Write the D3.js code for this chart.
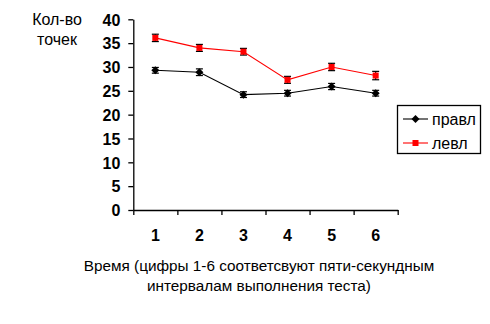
<!DOCTYPE html>
<html>
<head>
<meta charset="utf-8">
<script src="https://cdn.jsdelivr.net/npm/d3@7/dist/d3.min.js"></script>
<style>
  html, body { margin: 0; padding: 0; background: #fff; }
  svg { display: block; font-family: "Liberation Sans", Arial, sans-serif; }
</style>
</head>
<body>
<svg id="chart" width="490" height="324"></svg>
<script>
// Time intervals (five-second blocks) and mean points per interval
const categories = ["1", "2", "3", "4", "5", "6"];
const rightValues = [29.3, 28.9, 24.2, 24.5, 25.9, 24.5];   // правл
const rightErrors = [0.6, 0.7, 0.6, 0.6, 0.65, 0.6];
const leftValues  = [36.1, 34.0, 33.2, 27.3, 30.0, 28.2];   // левл
const leftErrors  = [0.77, 0.73, 0.7, 0.73, 0.77, 0.88];
const yTicks = [0, 5, 10, 15, 20, 25, 30, 35, 40];
const seriesNames = ["правл", "левл"];

const series = [
  { name: seriesNames[0], values: rightValues, errors: rightErrors, color: "#000000", marker: "diamond" },
  { name: seriesNames[1], values: leftValues,  errors: leftErrors,  color: "#ff0000", marker: "square" }
];

const svg = d3.select("#chart");
const plot = { left: 133.3, right: 397.7, top: 19.3, bottom: 210 };

const y = d3.scaleLinear().domain([0, 40]).range([plot.bottom, plot.top]);
const x = d3.scaleBand().domain(categories).range([plot.left, plot.right]).padding(0);
const xEdge = d3.scaleLinear().domain([0, categories.length]).range([plot.left, plot.right]);

// Y axis
const yAxis = svg.append("g")
  .attr("transform", `translate(${plot.left},0)`)
  .call(d3.axisLeft(y).tickValues(yTicks).tickSize(5).tickSizeOuter(0).tickPadding(8));
yAxis.select(".domain").attr("stroke", "#000").attr("stroke-width", 1.3);
yAxis.selectAll(".tick line").attr("stroke", "#000").attr("stroke-width", 1.3);
yAxis.selectAll(".tick text")
  .attr("font-family", "'Liberation Sans', Arial, sans-serif")
  .attr("font-size", 16).attr("font-weight", "bold").attr("fill", "#000")
  .attr("dy", "0.36em");

// X axis: boundary ticks between intervals
const xAxis = svg.append("g")
  .attr("transform", `translate(0,${plot.bottom})`)
  .call(d3.axisBottom(xEdge).tickValues(d3.range(0, categories.length + 1))
    .tickSize(5).tickSizeOuter(0).tickFormat(""));
xAxis.select(".domain").attr("stroke", "#000").attr("stroke-width", 1.3);
xAxis.selectAll(".tick line").attr("stroke", "#000").attr("stroke-width", 1.3);

// X category labels centred in each band
svg.append("g").selectAll("text")
  .data(categories)
  .join("text")
  .attr("x", d => x(d) + x.bandwidth() / 2)
  .attr("y", 240.5)
  .attr("text-anchor", "middle")
  .attr("font-size", 16).attr("font-weight", "bold").attr("fill", "#000")
  .text(d => d);

// Axis titles
const yTitle = svg.append("text")
  .attr("text-anchor", "middle").attr("font-size", 16).attr("fill", "#000");
yTitle.append("tspan").attr("x", 57).attr("y", 24.5).text("Кол-во");
yTitle.append("tspan").attr("x", 57).attr("y", 44.5).text("точек");

const xTitle = svg.append("text")
  .attr("text-anchor", "middle").attr("font-size", 15.3).attr("fill", "#000");
xTitle.append("tspan").attr("x", 259).attr("y", 271).text("Время (цифры 1-6 соответсвуют пяти-секундным");
xTitle.append("tspan").attr("x", 259).attr("y", 291).text("интервалам выполнения теста)");

// Marker drawing helper
function drawMarker(sel, kind, color) {
  if (kind === "diamond") {
    sel.append("path")
      .attr("d", "M0,-4L4,0L0,4L-4,0Z")
      .attr("fill", color);
  } else {
    sel.append("rect")
      .attr("x", -3).attr("y", -3).attr("width", 6).attr("height", 6)
      .attr("fill", color);
  }
}

const cx = d => x(d) + x.bandwidth() / 2;
const line = d3.line().x(d => cx(d.cat)).y(d => y(d.v));

series.forEach(s => {
  const pts = categories.map((c, i) => ({ cat: c, v: s.values[i], e: s.errors[i] }));
  const g = svg.append("g");

  g.append("path")
    .datum(pts)
    .attr("d", line)
    .attr("fill", "none")
    .attr("stroke", s.color)
    .attr("stroke-width", 1.1);

  // Error bars (always black)
  const eb = g.append("g").selectAll("g").data(pts).join("g");
  eb.append("line")
    .attr("x1", d => cx(d.cat)).attr("x2", d => cx(d.cat))
    .attr("y1", d => y(d.v + d.e)).attr("y2", d => y(d.v - d.e))
    .attr("stroke", "#000").attr("stroke-width", 1.2);
  eb.append("line")
    .attr("x1", d => cx(d.cat) - 3.5).attr("x2", d => cx(d.cat) + 3.5)
    .attr("y1", d => y(d.v + d.e)).attr("y2", d => y(d.v + d.e))
    .attr("stroke", "#000").attr("stroke-width", 1.2);
  eb.append("line")
    .attr("x1", d => cx(d.cat) - 3.5).attr("x2", d => cx(d.cat) + 3.5)
    .attr("y1", d => y(d.v - d.e)).attr("y2", d => y(d.v - d.e))
    .attr("stroke", "#000").attr("stroke-width", 1.2);

  g.append("g").selectAll("g").data(pts).join("g")
    .attr("transform", d => `translate(${cx(d.cat)},${y(d.v)})`)
    .each(function () { drawMarker(d3.select(this), s.marker, s.color); });
});

// Legend
const legend = svg.append("g");
legend.append("rect")
  .attr("x", 397.5).attr("y", 105.5).attr("width", 83).attr("height", 48)
  .attr("fill", "#fff").attr("stroke", "#000").attr("stroke-width", 1.3);
series.forEach((s, i) => {
  const ly = 119 + i * 24;
  const item = legend.append("g");
  item.append("line")
    .attr("x1", 403).attr("x2", 428).attr("y1", ly).attr("y2", ly)
    .attr("stroke", s.color).attr("stroke-width", 1.1);
  const m = item.append("g").attr("transform", `translate(415.5,${ly})`);
  drawMarker(m, s.marker, s.color);
  item.append("text")
    .attr("x", 432).attr("y", ly + 5.5)
    .attr("font-size", 16).attr("fill", "#000")
    .text(s.name);
});
</script>
</body>
</html>
